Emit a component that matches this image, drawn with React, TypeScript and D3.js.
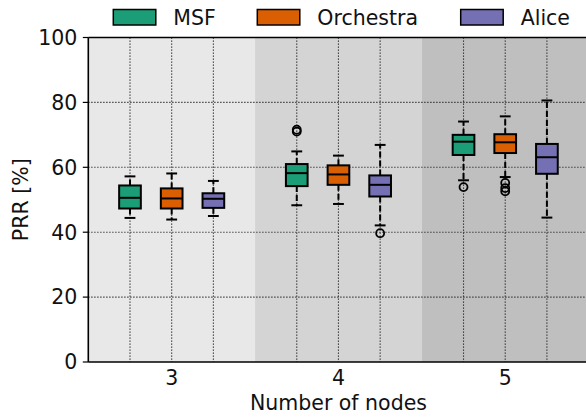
import React from 'react';
import * as d3 from 'd3';

// groups on the x axis
const groups = ['3', '4', '5'];
const seriesNames = ['MSF', 'Orchestra', 'Alice'];
const seriesColors = ['#1b9e77', '#d95f02', '#7570b3'];
const bandColors = ['#e8e8e8', '#d4d4d4', '#bfbfbf'];
const yTicks = [0, 20, 40, 60, 80, 100];

// [whisker low, q1, median, q3, whisker high] per group
const msfStats = [
  [44.4, 47.3, 50.6, 54.4, 57.2],
  [48.3, 54.2, 58.2, 61.0, 64.9],
  [56.0, 63.8, 67.9, 70.0, 74.1],
];
const orchestraStats = [
  [43.9, 47.3, 50.4, 53.5, 58.1],
  [48.7, 54.6, 57.8, 60.6, 63.6],
  [57.0, 64.4, 67.7, 70.2, 75.7],
];
const aliceStats = [
  [45.0, 47.5, 50.3, 52.0, 55.8],
  [42.1, 51.0, 54.6, 57.5, 66.9],
  [44.5, 58.0, 63.1, 67.2, 80.6],
];

// outliers per group
const msfOutliers = [[], [71.0, 71.6], [53.9]];
const orchestraOutliers = [[], [], [55.2, 53.6, 52.6]];
const aliceOutliers = [[], [39.7], []];

const allStats = [msfStats, orchestraStats, aliceStats];
const allOutliers = [msfOutliers, orchestraOutliers, aliceOutliers];

const W = 586;
const H = 418;
const FONT = '"DejaVu Sans", sans-serif';
const FS = 20.5;

const App: React.FC = () => {
  const x = d3.scaleLinear().domain([-0.5, 2.5]).range([88.3, 588.6]);
  const y = d3.scaleLinear().domain([0, 100]).range([362, 37.5]);
  const offsets = [-0.25, 0, 0.25];
  const boxW = x(0.13) - x(0);
  const capW = boxW / 2;

  const legendX = [113.3, 257.3, 460.7];

  return (
    <svg width={W} height={H} style={{ position: 'absolute', left: 0, top: 0 }} fontFamily={FONT}>
      <rect width={W} height={H} fill="white" />

      {/* background bands */}
      {groups.map((g, i) => (
        <rect key={g} x={x(i - 0.5)} y={y(100)} width={x(i + 0.5) - x(i - 0.5)} height={y(0) - y(100)} fill={bandColors[i]} />
      ))}

      {/* grid */}
      {yTicks.slice(1, -1).map(t => (
        <line key={t} x1={x(-0.5)} x2={W} y1={y(t)} y2={y(t)} stroke="#222" strokeWidth={1.1} strokeDasharray="1.2,1.8" />
      ))}
      {groups.map((g, i) =>
        offsets.map(o => (
          <line key={g + o} x1={x(i + o)} x2={x(i + o)} y1={y(100)} y2={y(0)} stroke="#222" strokeWidth={1.1} strokeDasharray="1.2,1.8" />
        ))
      )}

      {/* boxes */}
      {allStats.map((stats, s) =>
        stats.map((st, i) => {
          const cx = x(i + offsets[s]);
          const [lo, q1, med, q3, hi] = st;
          return (
            <g key={`${s}-${i}`}>
              <line x1={cx} x2={cx} y1={y(q3)} y2={y(hi)} stroke="black" strokeWidth={2} strokeDasharray="6,3" />
              <line x1={cx} x2={cx} y1={y(q1)} y2={y(lo)} stroke="black" strokeWidth={2} strokeDasharray="6,3" />
              <line x1={cx - capW / 2} x2={cx + capW / 2} y1={y(hi)} y2={y(hi)} stroke="black" strokeWidth={2} />
              <line x1={cx - capW / 2} x2={cx + capW / 2} y1={y(lo)} y2={y(lo)} stroke="black" strokeWidth={2} />
              <rect x={cx - boxW / 2} y={y(q3)} width={boxW} height={y(q1) - y(q3)} fill={seriesColors[s]} stroke="black" strokeWidth={2} />
              <line x1={cx - boxW / 2} x2={cx + boxW / 2} y1={y(med)} y2={y(med)} stroke="black" strokeWidth={2} />
              {allOutliers[s][i].map((v, k) => (
                <circle key={k} cx={cx} cy={y(v)} r={4} fill="none" stroke="black" strokeWidth={1.8} />
              ))}
            </g>
          );
        })
      )}

      {/* spines */}
      <line x1={x(-0.5)} x2={x(-0.5)} y1={y(100)} y2={y(0)} stroke="black" strokeWidth={1.6} />
      <line x1={x(-0.5)} x2={W} y1={y(100)} y2={y(100)} stroke="black" strokeWidth={1.6} />
      <line x1={x(-0.5)} x2={W} y1={y(0)} y2={y(0)} stroke="black" strokeWidth={1.6} />

      {/* y axis */}
      {yTicks.map(t => (
        <g key={t}>
          <line x1={x(-0.5) - 5.5} x2={x(-0.5)} y1={y(t)} y2={y(t)} stroke="black" strokeWidth={1.2} />
          <text x={x(-0.5) - 11} y={y(t)} dy="0.36em" textAnchor="end" fontSize={FS} fill="#111">{t}</text>
        </g>
      ))}
      <text transform={`translate(28,${(y(0) + y(100)) / 2}) rotate(-90)`} textAnchor="middle" fontSize={FS} fill="#111">PRR [%]</text>

      {/* x axis */}
      {groups.map((g, i) => (
        <text key={g} x={x(i)} y={385} textAnchor="middle" fontSize={FS} fill="#111">{g}</text>
      ))}
      <text x={x(1)} y={410} textAnchor="middle" fontSize={FS} fill="#111">Number of nodes</text>

      {/* legend */}
      {seriesNames.map((n, s) => (
        <g key={n}>
          <rect x={legendX[s]} y={9.5} width={42.5} height={15.5} fill={seriesColors[s]} stroke="black" strokeWidth={1.5} />
          <text x={legendX[s] + 60} y={17.3} dy="0.36em" fontSize={FS} fill="#111">{n}</text>
        </g>
      ))}
    </svg>
  );
};

export default App;
